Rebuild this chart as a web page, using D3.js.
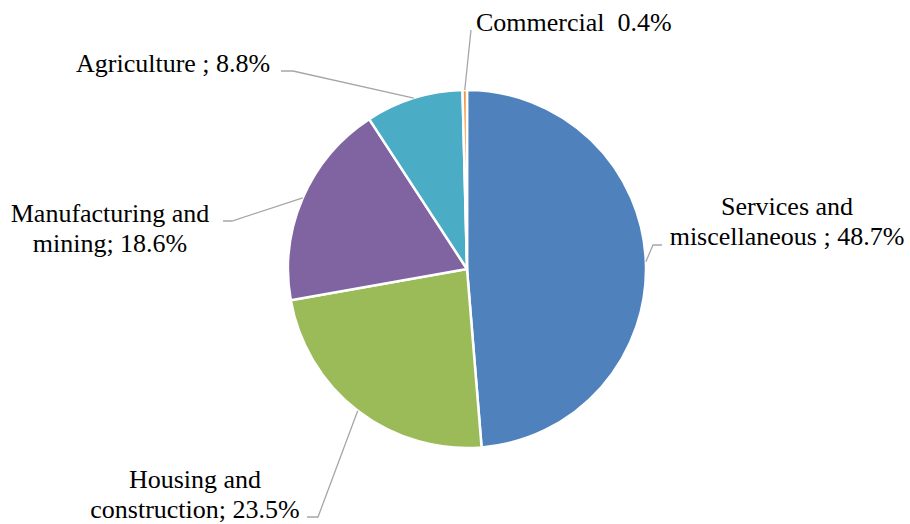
<!DOCTYPE html>
<html><head><meta charset="utf-8">
<script src="https://cdn.jsdelivr.net/npm/d3@7/dist/d3.min.js"></script>
<style>body{margin:0;background:#fff;}svg{display:block;}</style>
</head><body>
<svg id="chart" width="910" height="524"></svg>
<script>
const categories = ["Services and miscellaneous", "Housing and construction", "Manufacturing and mining", "Agriculture", "Commercial"];
const values = [48.7, 23.5, 18.6, 8.8, 0.4];
const labelLines = [
  ["Services and", "miscellaneous ; 48.7%"],
  ["Housing and", "construction; 23.5%"],
  ["Manufacturing and", "mining; 18.6%"],
  ["Agriculture ; 8.8%"],
  ["Commercial  0.4%"]
];
const colors = ["#4F81BD", "#9BBB59", "#8064A2", "#4BACC6", "#F79646"];

const svg = d3.select("#chart");
const cx = 467, cy = 269, r = 179;
const g = svg.append("g").attr("transform", `translate(${cx},${cy})`);
const pie = d3.pie().sort(null).value(d => d)(values);
const arc = d3.arc().innerRadius(0).outerRadius(r);
g.selectAll("path.slice").data(pie).enter().append("path")
  .attr("class", "slice")
  .attr("d", arc)
  .attr("fill", (d, i) => colors[i])
  .attr("stroke", "#fff").attr("stroke-width", 2.5).attr("stroke-linejoin", "round");

const layout = [
  {elbow: [653, 245], end: [662, 245], tx: 787, ty: 215, anchor: "middle"},
  {elbow: [318, 517], end: [307, 517], tx: 195, ty: 488, anchor: "middle"},
  {elbow: [232, 221], end: [223, 221], tx: 110, ty: 222, anchor: "middle"},
  {elbow: [293, 71], end: [281, 71], tx: 76, ty: 72, anchor: "start"},
  {elbow: [471, 30], end: [471, 30], tx: 476, ty: 31, anchor: "start"}
];
const lineH = 30;
pie.forEach((d, i) => {
  const a = (d.startAngle + d.endAngle) / 2;
  const sx = cx + r * Math.sin(a), sy = cy - r * Math.cos(a);
  const L = layout[i];
  svg.append("polyline")
    .attr("points", [[sx, sy], L.elbow, L.end].map(p => p.join(",")).join(" "))
    .attr("fill", "none").attr("stroke", "#A6A6A6").attr("stroke-width", 1.3);
  const t = svg.append("text")
    .attr("x", L.tx).attr("y", L.ty)
    .attr("text-anchor", L.anchor)
    .attr("font-family", "'Liberation Serif', 'Times New Roman', serif")
    .attr("font-size", 26).attr("fill", "#000");
  labelLines[i].forEach((s, j) => {
    t.append("tspan").attr("x", L.tx).attr("dy", j === 0 ? 0 : lineH).text(s)
      .attr("xml:space", "preserve").style("white-space", "pre");
  });
});
</script>
</body></html>
